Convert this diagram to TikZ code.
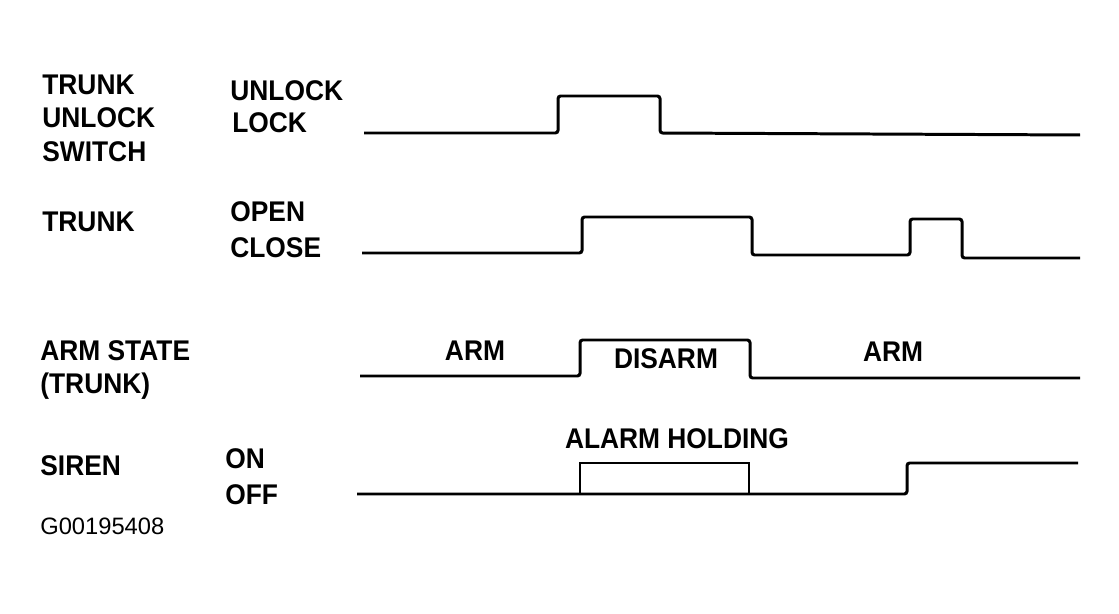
\documentclass[tikz,border=0pt]{standalone}
\usepackage{fontspec}
\setmainfont{Liberation Sans}
\usetikzlibrary{positioning}
\tikzset{
  sig/.style={line width=1.7pt,rounded corners=1.5pt},
  hold/.style={line width=0.9pt},
  lbl/.style={anchor=base west,inner sep=0pt,yscale=1.08,font=\fontsize{15}{18}\selectfont\bfseries},
  lvl/.style={anchor=base west,inner sep=0pt,yscale=1.08,font=\fontsize{15}{18}\selectfont\bfseries},
  txt/.style={anchor=base,inner sep=0pt,yscale=1.08,font=\fontsize{15}{18}\selectfont\bfseries}
}
\begin{document}
\begin{tikzpicture}[x=0.02cm,y=-0.02cm]
  \useasboundingbox (0,0) rectangle (1119,614);
  % signal names
  \node[lbl] (sw1) at (42,95) {TRUNK};
  \node[lbl] (sw2) at (42,128) {UNLOCK};
  \node[lbl] (sw3) at (42,162) {SWITCH};
  \node[lbl] (trk) at (42,232) {TRUNK};
  \node[lbl] (arm1) at (40,361) {ARM STATE};
  \node[lbl] (arm2) at (40,394) {(TRUNK)};
  \node[lbl] (sir) at (40,476) {SIREN};
  % levels
  \node[lvl] (unl) at (230,101) {UNLOCK};
  \node[lvl] (lck) at (232,133) {LOCK};
  \node[lvl] (opn) at (230,222) {OPEN};
  \node[lvl] (cls) at (230,258) {CLOSE};
  \node[lvl] (on) at (225,469) {ON};
  \node[lvl] (off) at (225,505) {OFF};
  % waveforms
  \draw[sig] (364,133) -- (558,133) -- (558,96) -- (660,96) -- (660,133) -- (1080,135);
  \draw[sig] (362,253) -- (582,253) -- (582,217) -- (752,217) -- (752,255)
    -- (910,255) -- (910,219) -- (962,219) -- (962,258) -- (1080,258);
  \draw[sig] (360,376) -- (580,376) -- (580,340) -- (750,340) -- (750,378) -- (1080,378);
  \draw[sig] (357,494) -- (907,494) -- (907,463) -- (1078,463);
  \draw[hold] (580,494) -- (580,463) -- (749,463) -- (749,494);
  % state texts
  \node[txt] (armA) at (475,361) {ARM};
  \node[txt] (dis) at (666,369) {DISARM};
  \node[txt] (armB) at (893,362) {ARM};
  \node[txt] (hld) at (677,449) {ALARM HOLDING};
  \node[anchor=base west,inner sep=0pt,font=\fontsize{13.5}{16}\selectfont] (fig) at (40,535) {G00195408};
\end{tikzpicture}
\end{document}
